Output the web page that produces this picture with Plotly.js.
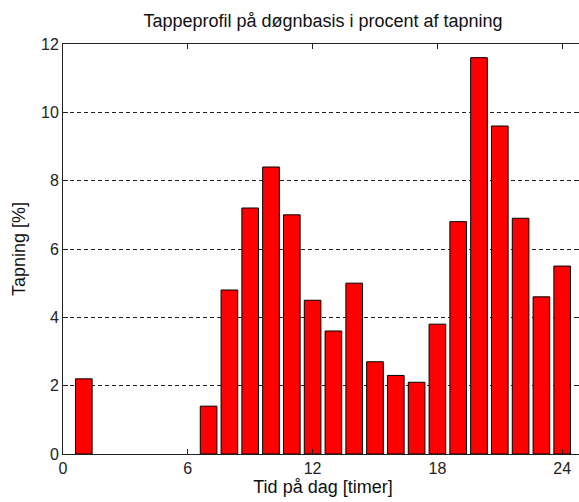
<!DOCTYPE html>
<html>
<head>
<meta charset="utf-8">
<script src="https://cdn.plot.ly/plotly-3.0.1.min.js"></script>
<style>
  html, body { margin: 0; padding: 0; background: #ffffff; overflow: hidden; }
  #chart { width: 584px; height: 502px; }
</style>
</head>
<body>
<div id="chart"></div>
<script>
// hour of day and share of daily tapping (%)
const hours = [1, 2, 3, 4, 5, 6, 7, 8, 9, 10, 11, 12, 13, 14, 15, 16, 17, 18, 19, 20, 21, 22, 23, 24];
const tapping = [2.2, 0, 0, 0, 0, 0, 1.4, 4.8, 7.2, 8.4, 7.0, 4.5, 3.6, 5.0, 2.7, 2.3, 2.1, 3.8, 6.8, 11.6, 9.6, 6.9, 4.6, 5.5];
const xTicks = [0, 6, 12, 18, 24];
const yTicks = [0, 2, 4, 6, 8, 10, 12];

const fontFamily = "'Liberation Sans', Arial, sans-serif";

// empty hours sit on the axis line; don't draw a flat outline for them
const trace = {
  type: "bar",
  x: hours,
  y: tapping.map((v) => (v === 0 ? null : v)),
  width: 0.8,
  marker: { color: "#ff0000", line: { color: "#000000", width: 1 } },
  hoverinfo: "x+y"
};

const layout = {
  width: 584,
  height: 502,
  paper_bgcolor: "#ffffff",
  plot_bgcolor: "#ffffff",
  margin: { l: 63, r: 1, t: 44, b: 48 },
  font: { family: fontFamily, size: 16, color: "#222222" },
  showlegend: false,
  title: {
    text: "Tappeprofil på døgnbasis i procent af tapning",
    font: { family: fontFamily, size: 18, color: "#111111" },
    xref: "paper",
    x: 0.5,
    xanchor: "center",
    y: 0.958,
    yanchor: "middle"
  },
  xaxis: {
    range: [0, 25],
    tickmode: "array",
    tickvals: xTicks,
    ticktext: xTicks.map(String),
    ticks: "inside",
    ticklen: 5,
    tickcolor: "#222222",
    showline: true,
    linecolor: "#222222",
    linewidth: 1,
    mirror: "ticks",
    showgrid: false,
    zeroline: false,
    tickfont: { size: 16 },
    title: { text: "Tid på dag [timer]", font: { size: 18, color: "#111111" }, standoff: 2 }
  },
  yaxis: {
    range: [0, 12],
    tickmode: "array",
    tickvals: yTicks,
    ticktext: yTicks.map(String),
    ticks: "inside",
    ticklen: 5,
    tickcolor: "#222222",
    showline: true,
    linecolor: "#222222",
    linewidth: 1,
    mirror: "ticks",
    showgrid: true,
    gridcolor: "#222222",
    gridwidth: 1,
    griddash: "4px,3px",
    zeroline: false,
    tickfont: { size: 16 },
    title: { text: "Tapning [%]", font: { size: 18, color: "#111111" }, standoff: 10 }
  }
};

Plotly.newPlot("chart", [trace], layout, { displayModeBar: false, staticPlot: true });
</script>
</body>
</html>
